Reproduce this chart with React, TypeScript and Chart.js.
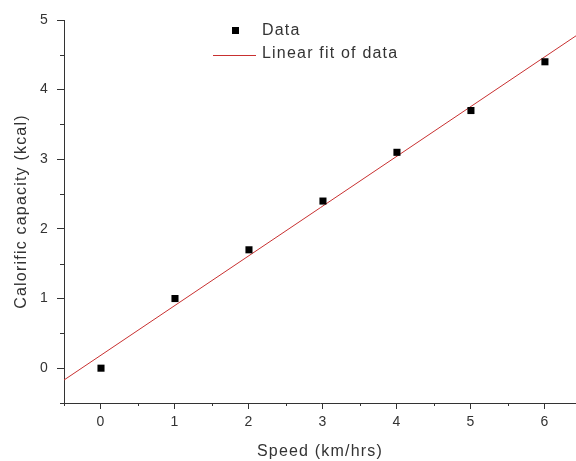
import React, { useEffect, useRef } from "react";
import { Chart, registerables } from "chart.js";

Chart.register(...registerables);

const speed = [0, 1, 2, 3, 4, 5, 6];
const calories = [0, 1.0, 1.7, 2.4, 3.1, 3.7, 4.4];
const fitSpeed = [-0.5, 6.5];
const fitCalories = [-0.17, 4.83];
const xMin = -0.5;
const xMax = 6.42;
const yMin = -0.5;
const yMax = 5;
const xTickValues = [-0.5, 0, 0.5, 1, 1.5, 2, 2.5, 3, 3.5, 4, 4.5, 5, 5.5, 6];
const xTitle = "Speed (km/hrs)";
const yTitle = "Calorific capacity (kcal)";
const legendLabels = ["Data", "Linear fit of data"];

const AXIS = "#333333";
const TEXT = "#333333";
const FIT = "#c83030";
const FONT = "'Liberation Sans', Arial, sans-serif";

const isInt = (v: number) => Math.abs(v - Math.round(v)) < 1e-6;
const isHalf = (v: number) => !isInt(v) && Math.abs(v * 2 - Math.round(v * 2)) < 1e-6;

const extrasPlugin = {
  id: "extras",
  beforeDraw(chart: any) {
    chart.ctx.letterSpacing = "1.2px";
  },
  afterDraw(chart: any) {
    const ctx = chart.ctx;
    const xs = chart.scales.x;
    const ys = chart.scales.y;
    const ca = chart.chartArea;
    ctx.save();
    ctx.letterSpacing = "0px";
    ctx.strokeStyle = AXIS;
    ctx.lineWidth = 1;
    // minor ticks
    for (let v = -0.5; v <= 7; v += 0.5) {
      if (!isHalf(v)) continue;
      if (v >= xs.min - 1e-6 && v <= xs.max + 1e-6) {
        const px = Math.round(xs.getPixelForValue(v)) + 0.5;
        ctx.beginPath();
        ctx.moveTo(px, ca.bottom);
        ctx.lineTo(px, ca.bottom + 3);
        ctx.stroke();
      }
      if (v >= ys.min - 1e-6 && v <= ys.max + 1e-6) {
        const py = Math.round(ys.getPixelForValue(v)) + 0.5;
        ctx.beginPath();
        ctx.moveTo(ca.left, py);
        ctx.lineTo(ca.left - 4, py);
        ctx.stroke();
      }
    }
    // legend
    const lx = ca.left + 149;
    const ly = ca.top + 10;
    ctx.letterSpacing = "1.2px";
    ctx.font = `16px ${FONT}`;
    ctx.textBaseline = "middle";
    ctx.textAlign = "left";
    ctx.fillStyle = "#000";
    ctx.fillRect(lx + 22 - 3, ly - 3, 7, 7);
    ctx.fillStyle = TEXT;
    ctx.fillText(legendLabels[0], lx + 49, ly + 1);
    ctx.strokeStyle = FIT;
    ctx.beginPath();
    ctx.moveTo(lx, ly + 25.5);
    ctx.lineTo(lx + 43, ly + 25.5);
    ctx.stroke();
    ctx.fillText(legendLabels[1], lx + 49, ly + 24);
    ctx.restore();
  },
};

export default function App() {
  const ref = useRef<HTMLCanvasElement | null>(null);
  useEffect(() => {
    document.body.style.margin = "0";
    const canvas = ref.current!;
    const chart = new Chart(canvas, {
      type: "scatter",
      data: {
        datasets: [
          {
            label: legendLabels[0],
            data: speed.map((x, i) => ({ x, y: calories[i] })),
            pointStyle: "rect",
            pointRadius: 5,
            backgroundColor: "#000",
            borderColor: "#000",
            borderWidth: 0,
            showLine: false,
          },
          {
            label: legendLabels[1],
            data: fitSpeed.map((x, i) => ({ x, y: fitCalories[i] })),
            showLine: true,
            borderColor: FIT,
            borderWidth: 1,
            pointRadius: 0,
            fill: false,
          },
        ],
      },
      options: {
        animation: false,
        responsive: false,
        devicePixelRatio: 1,
        layout: { autoPadding: false, padding: { top: 20, right: 0, left: 0, bottom: 0 } },
        plugins: {
          legend: { display: false },
          tooltip: { enabled: false },
        },
        scales: {
          x: {
            type: "linear",
            min: xMin,
            max: xMax,
            afterBuildTicks: (s: any) => {
              s.ticks = xTickValues.map((value) => ({ value }));
            },
            afterFit: (s: any) => {
              s.height = 58;
              s.paddingRight = 0;
              s.paddingLeft = 0;
            },
            border: { display: true, color: AXIS, width: 1 },
            grid: {
              display: true,
              drawOnChartArea: false,
              drawTicks: true,
              tickLength: 6,
              tickColor: (c: any) => (c.tick && isInt(c.tick.value) ? AXIS : "rgba(0,0,0,0)"),
            },
            ticks: {
              autoSkip: false,
              maxRotation: 0,
              padding: 5,
              color: TEXT,
              font: { family: FONT, size: 14 },
              callback: (v: any) => (isInt(Number(v)) ? String(Math.round(Number(v))) : ""),
            },
            title: {
              display: true,
              text: xTitle,
              color: TEXT,
              font: { family: FONT, size: 16 },
              padding: { top: 0, bottom: 0 },
            },
          },
          y: {
            type: "linear",
            min: yMin,
            max: yMax,
            afterFit: (s: any) => {
              s.width = 64;
            },
            border: { display: true, color: AXIS, width: 1 },
            grid: {
              display: true,
              drawOnChartArea: false,
              drawTicks: true,
              tickLength: 7,
              tickColor: (c: any) => (c.tick && isInt(c.tick.value) ? AXIS : "rgba(0,0,0,0)"),
            },
            ticks: {
              stepSize: 0.5,
              autoSkip: false,
              padding: 8,
              color: TEXT,
              font: { family: FONT, size: 14 },
              callback: (v: any) => (isInt(Number(v)) ? String(Math.round(Number(v))) : ""),
            },
            title: {
              display: true,
              text: yTitle,
              color: TEXT,
              font: { family: FONT, size: 16 },
              padding: { top: 12, bottom: 0 },
            },
          },
        },
      },
      plugins: [extrasPlugin],
    });
    return () => chart.destroy();
  }, []);
  return (
    <div style={{ width: 576, height: 461, background: "#fff" }}>
      <canvas ref={ref} width={576} height={461} style={{ display: "block" }} />
    </div>
  );
}
